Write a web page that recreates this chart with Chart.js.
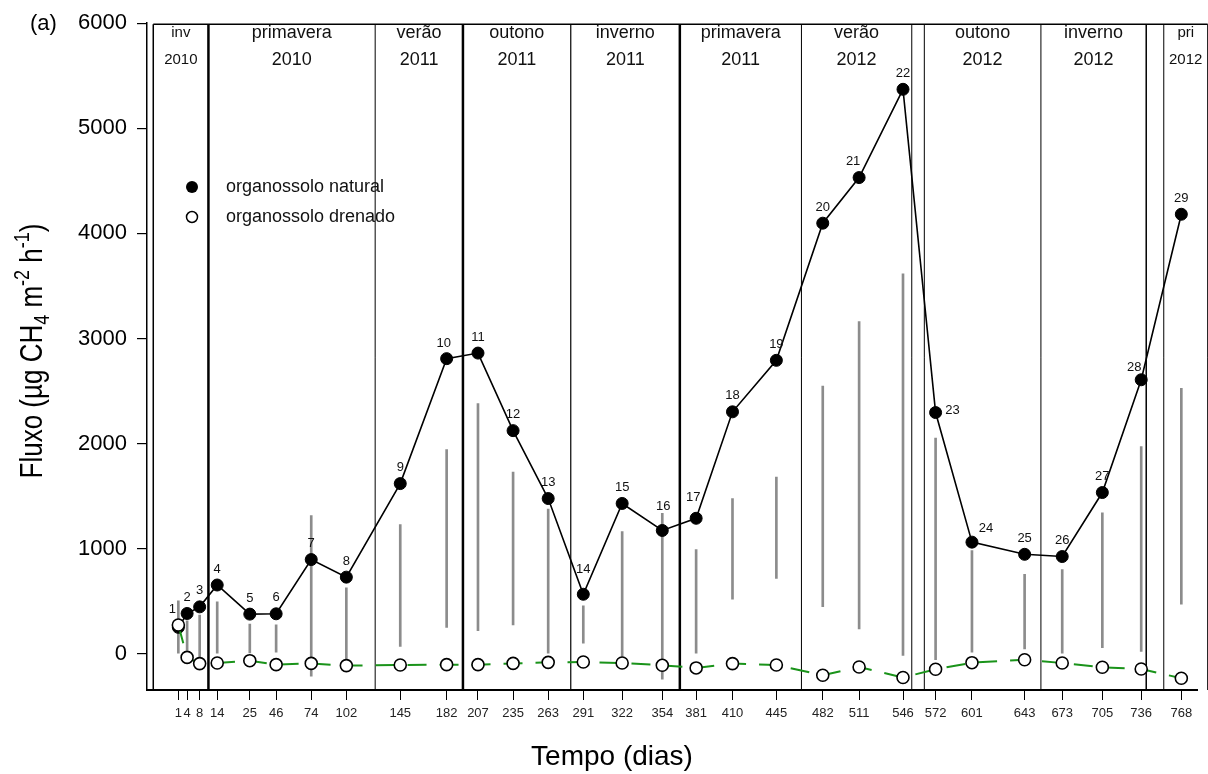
<!DOCTYPE html>
<html lang="pt">
<head>
<meta charset="UTF-8">
<title>Fluxo de CH4 - organossolo natural e drenado</title>
<script src="https://cdn.jsdelivr.net/npm/chart.js"></script>
<style>
  body { margin: 0; background: #fff; }
  #wrap { width: 1208px; height: 774px; position: relative; }
</style>
</head>
<body>
<div id="wrap"><canvas id="fluxChart"></canvas></div>
<script>
// tick labels of the time axis (days)
const dayLabels = ['1', '4', '8', '14', '25', '46', '74', '102', '145', '182', '207', '235', '263', '291', '322',
  '354', '381', '410', '445', '482', '511', '546', '572', '601', '643', '673', '705', '736', '768'];
// where each sampling sits on the time axis as drawn (the first winter campaign is stretched out)
const timeAxis = [-32, -25, -15, -1, 25, 46, 74, 102, 145, 182, 207, 235, 263, 291, 322,
  354, 381, 410, 445, 482, 511, 546, 572, 601, 643, 673, 705, 736, 768];

const natural = [251, 383, 446, 654, 377, 380, 896, 729, 1619, 2808, 2861, 2123, 1477, 566, 1430,
  1173, 1289, 2302, 2792, 4097, 4531, 5371, 2295, 1062, 946, 925, 1534, 2607, 4182];
const drenado = [274, -35, -94, -88, -66, -104, -92, -113, -107, -104, -104, -92, -82, -79, -88,
  -110, -135, -94, -107, -205, -126, -226, -148, -85, -57, -88, -129, -145, -233];

// grey range bars
const rangeLow = [0, 31, -31, 6, 9, 15, -214, -63, 69, 251, 220, 274, 0, 100, -25,
  -242, 6, 519, 717, 449, 236, -16, -57, 15, 47, 0, 57, 22, 472];
const rangeHigh = [503, 314, 368, 493, 283, 276, 1314, 628, 1230, 1943, 2380, 1729, 1377, 456, 1163,
  1336, 990, 1477, 1682, 2547, 3160, 3616, 2053, 981, 755, 802, 1342, 1972, 2525];

const yTicks = [0, 1000, 2000, 3000, 4000, 5000, 6000];

// season boxes (limits on the time axis) and their names
const seasonEdges = [-52, -8, 125, 195, 281, 368, 465, 553, 563, 656, 740, 754, 789];
const seasonNames = [['inv', '2010'], ['primavera', '2010'], ['verão', '2011'], ['outono', '2011'],
  ['inverno', '2011'], ['primavera', '2011'], ['verão', '2012'], null, ['outono', '2012'],
  ['inverno', '2012'], null, ['pri', '2012']];

const FONT = "'Liberation Sans', Arial, Helvetica, sans-serif";

const seasonBoxes = {
  id: 'seasonBoxes',
  beforeDatasetsDraw(chart) {
    const { ctx, chartArea: a, scales: { x } } = chart;
    const widths = [1.5, 2.5, 1, 2.5, 1.2, 2.5, 1, 1, 1, 1, 1.5, 1, 1];
    const top = a.top + 1, bottom = a.bottom;
    ctx.save();
    ctx.strokeStyle = '#000';
    ctx.lineWidth = 1.5;
    ctx.beginPath();
    ctx.moveTo(x.getPixelForValue(seasonEdges[0]), top);
    ctx.lineTo(x.getPixelForValue(seasonEdges[seasonEdges.length - 1]), top);
    ctx.stroke();
    seasonEdges.forEach((d, i) => {
      const px = x.getPixelForValue(d);
      ctx.lineWidth = widths[i];
      ctx.beginPath();
      ctx.moveTo(px, top);
      ctx.lineTo(px, bottom);
      ctx.stroke();
    });
    ctx.fillStyle = '#111';
    ctx.textAlign = 'center';
    ctx.textBaseline = 'middle';
    seasonNames.forEach((name, i) => {
      if (!name) return;
      const cx = (x.getPixelForValue(seasonEdges[i]) + x.getPixelForValue(seasonEdges[i + 1])) / 2;
      ctx.font = (name[0].length <= 3 ? 15 : 18) + 'px ' + FONT;
      ctx.fillText(name[0], cx, 33);
      ctx.fillText(name[1], cx, 60);
    });
    ctx.restore();
  }
};

const sampleLabels = {
  id: 'sampleLabels',
  afterDatasetsDraw(chart) {
    const ctx = chart.ctx;
    const shift = { 0: [-6, -18], 9: [-3, -15], 13: [0, -25], 15: [1, -24], 16: [-3, -21], 20: [-6, -16],
      22: [17, -2], 23: [14, -14], 27: [-7, -12] };
    ctx.save();
    ctx.font = '13px ' + FONT;
    ctx.fillStyle = '#111';
    ctx.textAlign = 'center';
    ctx.textBaseline = 'middle';
    chart.getDatasetMeta(0).data.forEach((pt, i) => {
      const [dx, dy] = shift[i] || [0, -16];
      ctx.fillText(String(i + 1), pt.x + dx, pt.y + dy);
    });
    ctx.restore();
  }
};

const titlesAndKey = {
  id: 'titlesAndKey',
  afterDraw(chart) {
    const ctx = chart.ctx;
    const ds = chart.data.datasets;
    ctx.save();
    ctx.fillStyle = '#000';
    ctx.font = '28px ' + FONT;
    ctx.textAlign = 'center';
    ctx.textBaseline = 'alphabetic';
    ctx.fillText('Tempo (dias)', 612, 765);

    ctx.font = '22px ' + FONT;
    ctx.textAlign = 'left';
    ctx.textBaseline = 'middle';
    ctx.fillText('(a)', 30, 24);

    // key inside the plot
    ctx.font = '18px ' + FONT;
    ctx.fillStyle = '#111';
    ctx.fillText(ds[0].label, 226, 187);
    ctx.fillText(ds[1].label, 226, 217);
    ctx.beginPath();
    ctx.arc(192, 187, 6, 0, Math.PI * 2);
    ctx.fillStyle = '#000';
    ctx.fill();
    ctx.beginPath();
    ctx.arc(192, 217, 5.5, 0, Math.PI * 2);
    ctx.fillStyle = '#fff';
    ctx.fill();
    ctx.lineWidth = 1.5;
    ctx.strokeStyle = '#000';
    ctx.stroke();
    ctx.restore();

    // y title with subscript and superscripts
    const parts = [['Fluxo (µg CH', 0], ['4', 1], [' m', 0], ['-2', -1], [' h', 0], ['-1', -1], [')', 0]];
    ctx.save();
    ctx.fillStyle = '#000';
    ctx.translate(42, 351);
    ctx.scale(1.22, 1);
    ctx.rotate(-Math.PI / 2);
    ctx.textAlign = 'left';
    ctx.textBaseline = 'alphabetic';
    const fontOf = k => (k ? 18 : 26) + 'px ' + FONT;
    let total = 0;
    parts.forEach(([t, k]) => { ctx.font = fontOf(k); total += ctx.measureText(t).width; });
    let xx = -total / 2;
    parts.forEach(([t, k]) => {
      ctx.font = fontOf(k);
      ctx.fillText(t, xx, k === 1 ? 6 : k === -1 ? -11 : 0);
      xx += ctx.measureText(t).width;
    });
    ctx.restore();
  }
};

new Chart(document.getElementById('fluxChart'), {
  type: 'line',
  data: {
    datasets: [
      {
        label: 'organossolo natural',
        data: timeAxis.map((x, i) => ({ x, y: natural[i] })),
        borderColor: '#000',
        borderWidth: 1.6,
        pointRadius: 6,
        pointBackgroundColor: '#000',
        pointBorderColor: '#000',
        pointBorderWidth: 1,
        order: 1
      },
      {
        label: 'organossolo drenado',
        data: timeAxis.map((x, i) => ({ x, y: drenado[i] })),
        borderColor: '#1a931a',
        borderWidth: 2,
        borderDash: [19, 13],
        pointRadius: 6,
        pointBackgroundColor: '#fff',
        pointBorderColor: '#000',
        pointBorderWidth: 1.6,
        order: 0
      },
      {
        type: 'bar',
        label: 'faixa',
        data: timeAxis.map((x, i) => ({ x, y: [rangeLow[i], rangeHigh[i]] })),
        backgroundColor: '#8c8c8c',
        barThickness: 2,
        order: 2
      }
    ]
  },
  options: {
    responsive: true,
    maintainAspectRatio: false,
    animation: false,
    layout: { padding: { top: 17, right: 11, bottom: 0, left: 0 } },
    plugins: { legend: { display: false }, tooltip: { enabled: false } },
    scales: {
      x: {
        type: 'linear',
        min: -57,
        max: 780.5,
        offset: false,
        afterBuildTicks: s => { s.ticks = timeAxis.map(v => ({ value: v })); },
        afterFit: s => { s.height = 84; },
        ticks: {
          autoSkip: false, maxRotation: 0, minRotation: 0,
          callback: (v, i) => dayLabels[i],
          font: { size: 13, family: FONT }, color: '#222', padding: 6
        },
        grid: { drawOnChartArea: false, offset: false, tickLength: 10, color: '#000', lineWidth: 1 },
        border: { display: true, color: '#000', width: 2 }
      },
      y: {
        type: 'linear',
        min: -345,
        max: 6000,
        afterBuildTicks: s => { s.ticks = yTicks.map(v => ({ value: v })); },
        afterFit: s => { s.width = 147; },
        ticks: { callback: v => String(v), font: { size: 22, family: FONT }, color: '#000', padding: 10 },
        grid: { drawOnChartArea: false, offset: false, tickLength: 10, color: '#000', lineWidth: 1.2 },
        border: { display: true, color: '#000', width: 1.5 }
      }
    }
  },
  plugins: [seasonBoxes, sampleLabels, titlesAndKey]
});
</script>
</body>
</html>
